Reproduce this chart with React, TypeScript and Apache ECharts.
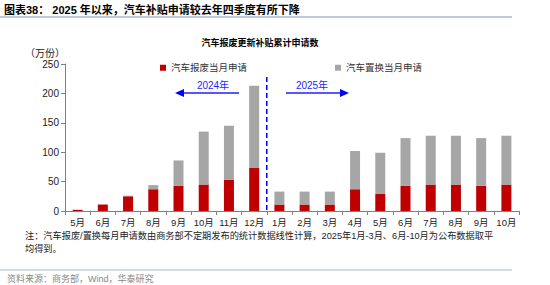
import React, { useEffect, useRef } from "react";
import * as echarts from "echarts";

const categories = ["5月", "6月", "7月", "8月", "9月", "10月", "11月", "12月", "1月", "2月", "3月", "4月", "5月", "6月", "7月", "8月", "9月", "10月"];
const scrapValues = [2, 11, 25, 37, 43, 45, 53, 73, 11, 11, 11, 37, 29, 43, 45, 45, 43, 45];
const replaceValues = [0, 0, 1, 7, 43, 90, 92, 140, 22, 22, 22, 65, 70, 81, 83, 83, 81, 83];
const yMin = 0;
const yMax = 250;
const yInterval = 50;
const seriesNames = ["汽车报废当月申请", "汽车置换当月申请"];
const yearLabels = ["2024年", "2025年"];

const CJK = '"Liberation Sans", "Noto Sans CJK SC", sans-serif';

export default function App() {
  const ref = useRef<HTMLDivElement>(null);
  useEffect(() => {
    document.body.style.margin = "0";
    const chart = echarts.init(ref.current!, undefined, { renderer: "svg" });
    const option: any = {
      animation: false,
      grid: { left: 65, right: 31, top: 64, bottom: 74, containLabel: false },
      legend: [
        {
          data: [seriesNames[0]], left: 155, top: 58, icon: "rect", itemWidth: 6, itemHeight: 6, itemGap: 4,
          textStyle: { fontSize: 9.5, color: "#333", fontFamily: CJK },
        },
        {
          data: [seriesNames[1]], left: 330, top: 58, icon: "rect", itemWidth: 6, itemHeight: 6, itemGap: 4,
          textStyle: { fontSize: 9.5, color: "#333", fontFamily: CJK },
        },
      ],
      xAxis: {
        type: "category",
        data: categories,
        axisLine: { lineStyle: { color: "#808080", width: 1 } },
        axisTick: { show: true, length: 4, lineStyle: { color: "#808080" } },
        axisLabel: { fontSize: 9.5, color: "#222", fontFamily: CJK, margin: 7, interval: 0 },
      },
      yAxis: {
        type: "value",
        min: yMin,
        max: yMax,
        interval: yInterval,
        splitLine: { show: false },
        axisLine: { show: true, lineStyle: { color: "#808080", width: 1 } },
        axisTick: { show: true, length: 4, lineStyle: { color: "#808080" } },
        axisLabel: { fontSize: 10, color: "#222", fontFamily: CJK, margin: 6 },
      },
      series: [
        {
          name: seriesNames[0], type: "bar", stack: "a", data: scrapValues, barWidth: 10,
          itemStyle: { color: "#C00000" },
        },
        {
          name: seriesNames[1], type: "bar", stack: "a", data: replaceValues, barWidth: 10,
          itemStyle: { color: "#A6A6A6" },
        },
      ],
    };
    chart.setOption(option);

    const x7 = chart.convertToPixel({ xAxisIndex: 0 }, 7) as number;
    const x8 = chart.convertToPixel({ xAxisIndex: 0 }, 8) as number;
    const bx = (x7 + x8) / 2;
    const yBottom = chart.convertToPixel({ yAxisIndex: 0 }, 0) as number;
    const yTop = chart.convertToPixel({ yAxisIndex: 0 }, 228) as number;
    const blue = "#1F1FFF";
    const ay = 93;

    chart.setOption({
      graphic: [
        { type: "text", x: 4, y: 10, style: { text: "图表38： 2025 年以来，汽车补贴申请较去年四季度有所下降", fill: "#000", font: `bold 11px ${CJK}`, textVerticalAlign: "middle" } },
        { type: "line", shape: { x1: 0, y1: 17, x2: 512, y2: 17 }, style: { stroke: "#A9B8CC", lineWidth: 1.5 } },
        { type: "text", x: 260, y: 43, style: { text: "汽车报废更新补贴累计申请数", fill: "#000", font: `bold 9px ${CJK}`, textAlign: "center", textVerticalAlign: "middle" } },
        { type: "text", x: 25, y: 53, style: { text: "（万份）", fill: "#222", font: `10px ${CJK}`, textVerticalAlign: "middle" } },
        { type: "line", shape: { x1: bx, y1: yTop, x2: bx, y2: yBottom }, style: { stroke: "#0000FF", lineWidth: 1.5, lineDash: [5, 3] } },
        { type: "line", shape: { x1: 239, y1: ay, x2: 182, y2: ay }, style: { stroke: blue, lineWidth: 1.5 } },
        { type: "polygon", shape: { points: [[175, ay], [184, ay - 4], [184, ay + 4]] }, style: { fill: "#0000FF" } },
        { type: "text", x: 213, y: 85, style: { text: yearLabels[0], fill: blue, font: `10px ${CJK}`, textAlign: "center", textVerticalAlign: "middle" } },
        { type: "line", shape: { x1: 286, y1: ay, x2: 342, y2: ay }, style: { stroke: blue, lineWidth: 1.5 } },
        { type: "polygon", shape: { points: [[349, ay], [340, ay - 4], [340, ay + 4]] }, style: { fill: "#0000FF" } },
        { type: "text", x: 312, y: 85, style: { text: yearLabels[1], fill: blue, font: `10px ${CJK}`, textAlign: "center", textVerticalAlign: "middle" } },
        { type: "text", x: 25, y: 236, style: { text: "注：汽车报废/置换每月申请数由商务部不定期发布的统计数据线性计算，2025年1月-3月、6月-10月为公布数据取平", fill: "#222", font: `9.2px ${CJK}`, textVerticalAlign: "middle" } },
        { type: "text", x: 25, y: 249, style: { text: "均得到。", fill: "#222", font: `9.2px ${CJK}`, textVerticalAlign: "middle" } },
        { type: "line", shape: { x1: 0, y1: 270, x2: 512, y2: 270 }, style: { stroke: "#A9B8CC", lineWidth: 1 } },
        { type: "text", x: 7, y: 279, style: { text: "资料来源：商务部，Wind，华泰研究", fill: "#888", font: `9px ${CJK}`, textVerticalAlign: "middle" } },
      ],
    });
    return () => chart.dispose();
  }, []);
  return <div ref={ref} style={{ width: 550, height: 285 }} />;
}
